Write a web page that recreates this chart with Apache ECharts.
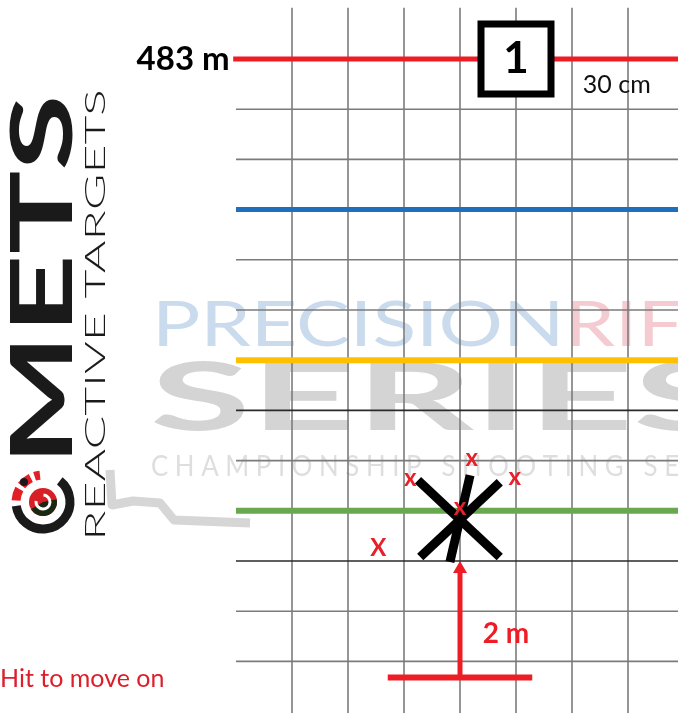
<!DOCTYPE html>
<html>
<head>
<meta charset="utf-8">
<script src="https://cdn.jsdelivr.net/npm/echarts@6/dist/echarts.min.js"></script>
<style>
  html, body { margin: 0; padding: 0; background: #fff; }
  #main { width: 678px; height: 713px; }
</style>
</head>
<body>
<div id="main"></div>
<script>
// grid is counted in cells: one cell = 30 cm wide, rows are the firing lines
const gridCols = [1, 2, 3, 4, 5, 6, 7];
const gridRows = [1, 2, 4, 5, 7, 8, 10, 11, 12];
const darkRows = [7, 10];

// coloured distance lines
const bandRows = [0, 3, 6, 9];
const bandNames = ['483 m', '', '', ''];

// target number box and cell size note
const targetNo = '1';
const targetNoPos = [5, 0];
const cellNote = '30 cm';
const cellNotePos = [6.8, 0.52];

// the target (asterisk) : three arms, start / end
const armStart = [[3.25, 8.39], [4.71, 8.43], [4.18, 8.29]];
const armEnd = [[4.71, 9.92], [3.29, 9.92], [3.82, 10.02]];

// hits
const hitX = [3.11, 4.21, 4.98, 2.54, 4.0];
const hitY = [8.35, 7.95, 8.33, 9.75, 8.93];
const hitMark = ['x', 'x', 'x', 'X', 'x'];

// move-on arrow
const arrowX = 4;
const arrowFrom = 12.32;
const arrowTo = 10.12;
const arrowBar = [2.71, 5.29];
const arrowText = '2 m';
const arrowTextPos = [4.82, 11.45];

const caption = 'Hit to move on';

// ---- layout ----
const W = 678, H = 713;
const CELL_W = 56, CELL_H = 50.2, ORIGIN_X = 236, ORIGIN_Y = 59;
const xMin = -ORIGIN_X / CELL_W, xMax = (W - ORIGIN_X) / CELL_W;
const yMin = -ORIGIN_Y / CELL_H, yMax = (H - ORIGIN_Y) / CELL_H;

const bandColors = ['#ee1c25', '#1f6fbf', '#ffc000', '#6aa84f'];
const bandWidths = [5, 5, 6, 6];

function seg(pts, color, width, z) {
  return {
    type: 'line', data: pts, symbol: 'none', silent: true, clip: false,
    lineStyle: { color: color, width: width, cap: 'butt' }, z: z
  };
}
// invisible point that only carries a text label
function note(pos, text, font, z) {
  return {
    type: 'scatter', data: [pos], symbolSize: 1, silent: true, z: z || 8,
    itemStyle: { color: 'transparent', opacity: 1 },
    label: Object.assign({ show: true, position: 'inside', formatter: text, fontFamily: 'Lato' }, font)
  };
}

const series = [];

// grid
gridCols.forEach(c => series.push(seg([[c, -1.02], [c, yMax]], '#7b7b7b', 1.6, 3)));
gridRows.forEach(r => {
  const col = darkRows.includes(r) ? '#2a2a2a' : '#7b7b7b';
  series.push(seg([[0, r], [xMax, r]], col, 1.6, 3));
});

// distance lines
bandRows.forEach((r, i) => {
  series.push(seg([[i === 0 ? -0.05 : 0, r], [xMax, r]], bandColors[i], bandWidths[i], 4));
  if (bandNames[i]) {
    const s = note([-0.05, r], bandNames[i], { fontWeight: 'bold', fontSize: 33, color: '#000' }, 6);
    s.label.position = 'left';
    s.label.distance = 3;
    series.push(s);
  }
});

// target number box
series.push({
  type: 'scatter', data: [targetNoPos], symbol: 'rect', symbolSize: 70, silent: true, z: 8,
  itemStyle: { color: '#fff', borderColor: '#000', borderWidth: 7, opacity: 1 },
  label: {
    show: true, position: 'inside', formatter: targetNo,
    fontFamily: 'Lato', fontWeight: 'bold', fontSize: 44, color: '#000'
  }
});
series.push(note(cellNotePos, cellNote, { fontSize: 25, color: '#111' }));

// asterisk
armStart.forEach((p, i) => series.push(seg([p, armEnd[i]], '#000', 9, 6)));

// hits
series.push({
  type: 'scatter', symbolSize: 1, silent: true, z: 9,
  itemStyle: { color: 'transparent', opacity: 1 },
  data: hitX.map((x, i) => ({ value: [x, hitY[i]], name: hitMark[i] })),
  label: {
    show: true, position: 'inside', formatter: p => p.name,
    fontFamily: 'Lato', fontWeight: 'bold', fontSize: 24, color: '#e8202a'
  }
});

// arrow
series.push(seg([[arrowX, arrowFrom], [arrowX, arrowTo + 0.1]], '#ee1c25', 5, 6));
series.push(seg([[arrowBar[0], arrowFrom], [arrowBar[1], arrowFrom]], '#ee1c25', 6, 6));
series.push({
  type: 'scatter', data: [[arrowX, arrowTo]], symbol: 'triangle', symbolSize: [14, 12],
  itemStyle: { color: '#ee1c25', opacity: 1 }, silent: true, z: 7
});
series.push(note(arrowTextPos, arrowText, { fontWeight: 'bold', fontSize: 28, color: '#ee1c25' }));

// watermark + logo (decoration)
const graphic = [
  {
    type: 'text', x: 152, y: 326, scaleX: 1.32, z: -1, silent: true,
    style: {
      text: '{a|PRECISION}{b|RIFLE}', verticalAlign: 'middle',
      rich: {
        a: { fontFamily: 'Lato', fontWeight: 'normal', fontSize: 61, fill: '#c9dbec' },
        b: { fontFamily: 'Lato', fontWeight: 'normal', fontSize: 61, fill: '#f4cbd0' }
      }
    }
  },
  {
    type: 'text', x: 150, y: 400, scaleX: 1.97, z: -1, silent: true,
    style: {
      text: 'SERIES', fontFamily: 'Lato', fontWeight: 'bold', fontSize: 93,
      fill: '#d4d4d4', verticalAlign: 'middle'
    }
  },
  {
    type: 'text', x: 151, y: 467, scaleX: 0.89, z: -1, silent: true,
    style: {
      text: 'C H A M P I O N S H I P   S H O O T I N G   S E R I E S',
      fontFamily: 'Lato', fontSize: 29, fill: '#dedede', verticalAlign: 'middle'
    }
  },
  {
    type: 'polyline', z: -1, silent: true,
    shape: { points: [[110, 470], [112, 505], [133, 501], [160, 503], [174, 520], [250, 523]] },
    style: { stroke: '#d6d6d6', lineWidth: 9, fill: null, lineJoin: 'round' }
  },
  {
    type: 'text', x: 44, y: 280, rotation: Math.PI / 2, scaleX: 1.62, silent: true,
    style: {
      text: 'METS', fontFamily: 'Lato', fontWeight: 'bold', fontSize: 86, fill: '#1a1a1a',
      align: 'center', verticalAlign: 'middle'
    }
  },
  {
    type: 'text', x: 96, y: 315, rotation: Math.PI / 2, scaleX: 1.85, silent: true,
    style: {
      text: 'REACTIVE TARGETS', fontFamily: 'Lato', fontWeight: 300, fontSize: 27, fill: '#1a1a1a',
      align: 'center', verticalAlign: 'middle'
    }
  },
  {
    type: 'arc', silent: true,
    shape: { cx: 43, cy: 502, r: 27, startAngle: -0.9, endAngle: 3.0 },
    style: { stroke: '#1a1a1a', lineWidth: 9, fill: null }
  },
  {
    type: 'arc', silent: true,
    shape: { cx: 43, cy: 502, r: 27, startAngle: 3.2, endAngle: 4.6 },
    style: { stroke: '#e31e24', lineWidth: 9, fill: null, lineDash: [12, 4] }
  },
  {
    type: 'circle', silent: true, shape: { cx: 24, cy: 482, r: 4 }, style: { fill: '#1a1a1a' }
  },
  {
    type: 'circle', silent: true, shape: { cx: 43, cy: 502, r: 14 }, style: { fill: '#d81f26' }
  },
  {
    type: 'sector', silent: true,
    shape: { cx: 43, cy: 502, r: 14, startAngle: -0.2, endAngle: 2.6 },
    style: { fill: '#1a2a12' }
  },
  {
    type: 'arc', silent: true,
    shape: { cx: 43, cy: 502, r: 7, startAngle: -1.5, endAngle: 3.3 },
    style: { stroke: '#fff', lineWidth: 3, fill: null }
  },
  {
    type: 'text', x: 0, y: 679, silent: true,
    style: {
      text: caption, fontFamily: 'Lato', fontSize: 25, fill: '#dc1f2b', verticalAlign: 'middle'
    }
  }
];

const chart = echarts.init(document.getElementById('main'), null, { renderer: 'canvas' });
chart.setOption({
  animation: false,
  backgroundColor: '#fff',
  grid: { left: 0, right: 0, top: 0, bottom: 0 },
  xAxis: { type: 'value', min: xMin, max: xMax, show: false },
  yAxis: { type: 'value', inverse: true, min: yMin, max: yMax, show: false },
  graphic: graphic,
  series: series
});
</script>
</body>
</html>
